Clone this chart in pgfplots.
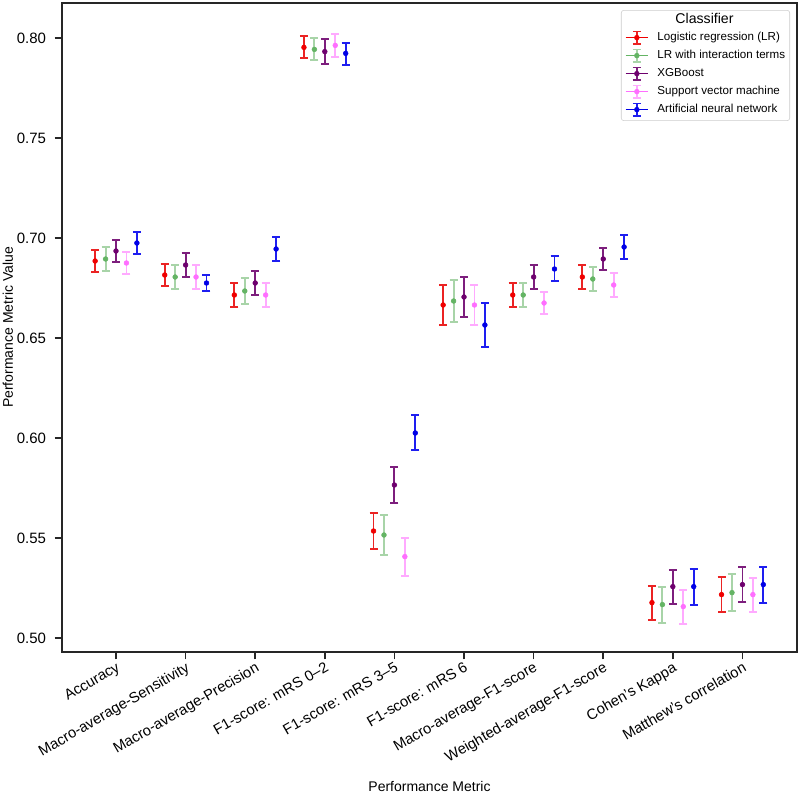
\documentclass[border=0pt]{standalone}
\usepackage{fontspec}
\setmainfont{Liberation Sans}
\usepackage{pgfplots}
\usepackage{pgfplotstable}
\pgfplotsset{compat=1.18}

\definecolor{barR}{RGB}{235,35,35}
\definecolor{markR}{RGB}{240,0,0}
\definecolor{barG}{RGB}{168,212,168}
\definecolor{markG}{RGB}{100,180,100}
\definecolor{barP}{RGB}{125,30,125}
\definecolor{markP}{RGB}{110,0,110}
\definecolor{barK}{RGB}{255,170,255}
\definecolor{markK}{RGB}{255,110,255}
\definecolor{barB}{RGB}{30,30,240}
\definecolor{markB}{RGB}{0,0,230}

% x = category position + dodge offset, y = mean, ep/em = CI half widths
\pgfplotstableread{
x     y      ep     em
-0.30 0.6885 0.0057 0.0055
0.70  0.6815 0.0057 0.0055
1.70  0.6715 0.0060 0.0060
2.70  0.7953 0.0057 0.0055
3.70  0.5535 0.0090 0.0088
4.70  0.6665 0.0100 0.0100
5.70  0.6715 0.0060 0.0060
6.70  0.6805 0.0062 0.0060
7.70  0.5177 0.0085 0.0085
8.70  0.5217 0.0086 0.0085
}\tabLR
\pgfplotstableread{
x     y      ep     em
-0.15 0.6895 0.0062 0.0060
0.85  0.6805 0.0060 0.0062
1.85  0.6735 0.0065 0.0065
2.85  0.7943 0.0057 0.0055
3.85  0.5515 0.0100 0.0098
4.85  0.6685 0.0103 0.0105
5.85  0.6715 0.0060 0.0060
6.85  0.6795 0.0062 0.0060
7.85  0.5167 0.0090 0.0090
8.85  0.5227 0.0091 0.0090
}\tabLRI
\pgfplotstableread{
x     y      ep     em
0.00  0.6935 0.0057 0.0055
1.00  0.6865 0.0060 0.0060
2.00  0.6775 0.0060 0.0060
3.00  0.7932 0.0061 0.0060
4.00  0.5765 0.0090 0.0088
5.00  0.6705 0.0100 0.0100
6.00  0.6805 0.0060 0.0060
7.00  0.6895 0.0057 0.0055
8.00  0.5257 0.0085 0.0085
9.00  0.5267 0.0086 0.0085
}\tabXGB
\pgfplotstableread{
x     y      ep     em
0.15  0.6875 0.0055 0.0055
1.15  0.6805 0.0060 0.0062
2.15  0.6715 0.0060 0.0060
3.15  0.7963 0.0059 0.0058
4.15  0.5407 0.0095 0.0095
5.15  0.6665 0.0100 0.0100
6.15  0.6675 0.0055 0.0055
7.15  0.6765 0.0062 0.0060
8.15  0.5157 0.0085 0.0085
9.15  0.5217 0.0085 0.0085
}\tabSVM
\pgfplotstableread{
x     y      ep     em
0.30  0.6975 0.0057 0.0055
1.30  0.6775 0.0042 0.0040
2.30  0.6945 0.0062 0.0062
3.30  0.7923 0.0054 0.0056
4.30  0.6025 0.0090 0.0085
5.30  0.6565 0.0110 0.0110
6.30  0.6845 0.0065 0.0060
7.30  0.6955 0.0062 0.0060
8.30  0.5257 0.0090 0.0090
9.30  0.5267 0.0090 0.0090
}\tabANN

% legend glyph: error bar with caps and a dot
\newcommand{\ebicon}[2]{%
  \path (0pt,0pt) -- (17pt,0pt);
  \draw[#1, line width=1.4pt] (8.5pt,-4.6pt) -- (8.5pt,4.6pt);
  \draw[#1, line width=1.4pt] (5.5pt,-4.6pt) -- (11.5pt,-4.6pt);
  \draw[#1, line width=1.4pt] (5.5pt,4.6pt) -- (11.5pt,4.6pt);
  \fill[#2] (8.5pt,0pt) circle (1.8pt);
}

\pgfplotsset{
  ci/.style n args={2}{
    only marks, mark=*, mark size=1.8pt, color=#2,
    error bars/y dir=both, error bars/y explicit,
    error bars/error bar style={#1, line width=1.4pt},
    error bars/error mark options={rotate=90, #1, mark size=3pt, line width=1.4pt},
  },
}

\begin{document}
\begin{tikzpicture}
\begin{axis}[
  at={(0,0)}, anchor=south west,
  scale only axis,
  width=551.25pt, height=486.75pt,
  xmin=-0.776, xmax=9.784,
  ymin=0.493, ymax=0.8175,
  axis line style={black!85, line width=1.1pt},
  tick style={black!85, line width=1.1pt},
  major tick length=5.5pt,
  tick align=outside,
  xtick pos=bottom, ytick pos=left,
  xtick={0,1,2,3,4,5,6,7,8,9},
  xticklabels={Accuracy, Macro-average-Sensitivity, Macro-average-Precision,
    {F1-score: mRS 0–2}, {F1-score: mRS 3–5}, {F1-score: mRS 6},
    Macro-average-F1-score, Weighted-average-F1-score, Cohen's Kappa,
    Matthew's correlation},
  ytick={0.50,0.55,0.60,0.65,0.70,0.75,0.80},
  yticklabel style={/pgf/number format/fixed, /pgf/number format/fixed zerofill,
    /pgf/number format/precision=2, /pgf/number format/assume math mode=true,
    xshift=-3pt, font=\fontsize{11.25}{13}\selectfont},
  xticklabel style={rotate=30, anchor=north east, inner sep=1pt,
    font=\fontsize{11.1}{13}\selectfont},
  xlabel={Performance Metric},
  ylabel={Performance Metric Value},
  label style={font=\fontsize{10.5}{12}\selectfont},
  xlabel style={at={(axis description cs:0.5,-0.2065)}, anchor=center},
  ylabel style={at={(axis description cs:-0.0735,0.5)}, anchor=center},
  legend cell align=left,
  legend style={
    at={(axis description cs:0.9905,0.9892)}, anchor=north east,
    draw=black!20, rounded corners=2pt, fill=white,
    font=\fontsize{8.7}{10}\selectfont,
    inner sep=3pt, row sep=2.9pt, column sep=6.25pt,
    nodes={inner sep=0.5pt, text height=6.5pt, text depth=1.8pt},
  },
]
\addlegendimage{empty legend}
\addlegendentry{\hspace{13.5pt}\fontsize{10.6}{12}\selectfont Classifier}

\addplot[ci={barR}{markR}, legend image code/.code={\ebicon{barR}{markR}}]
  table[x=x, y=y, y error plus=ep, y error minus=em] {\tabLR};
\addlegendentry{Logistic regression (LR)}
\addplot[ci={barG}{markG}, legend image code/.code={\ebicon{barG}{markG}}]
  table[x=x, y=y, y error plus=ep, y error minus=em] {\tabLRI};
\addlegendentry{LR with interaction terms}
\addplot[ci={barP}{markP}, legend image code/.code={\ebicon{barP}{markP}}]
  table[x=x, y=y, y error plus=ep, y error minus=em] {\tabXGB};
\addlegendentry{XGBoost}
\addplot[ci={barK}{markK}, legend image code/.code={\ebicon{barK}{markK}}]
  table[x=x, y=y, y error plus=ep, y error minus=em] {\tabSVM};
\addlegendentry{Support vector machine}
\addplot[ci={barB}{markB}, legend image code/.code={\ebicon{barB}{markB}}]
  table[x=x, y=y, y error plus=ep, y error minus=em] {\tabANN};
\addlegendentry{Artificial neural network}
\end{axis}
\pgfresetboundingbox
\useasboundingbox (-46.5pt,-108.75pt) rectangle (553.5pt,489pt);
\end{tikzpicture}
\end{document}
